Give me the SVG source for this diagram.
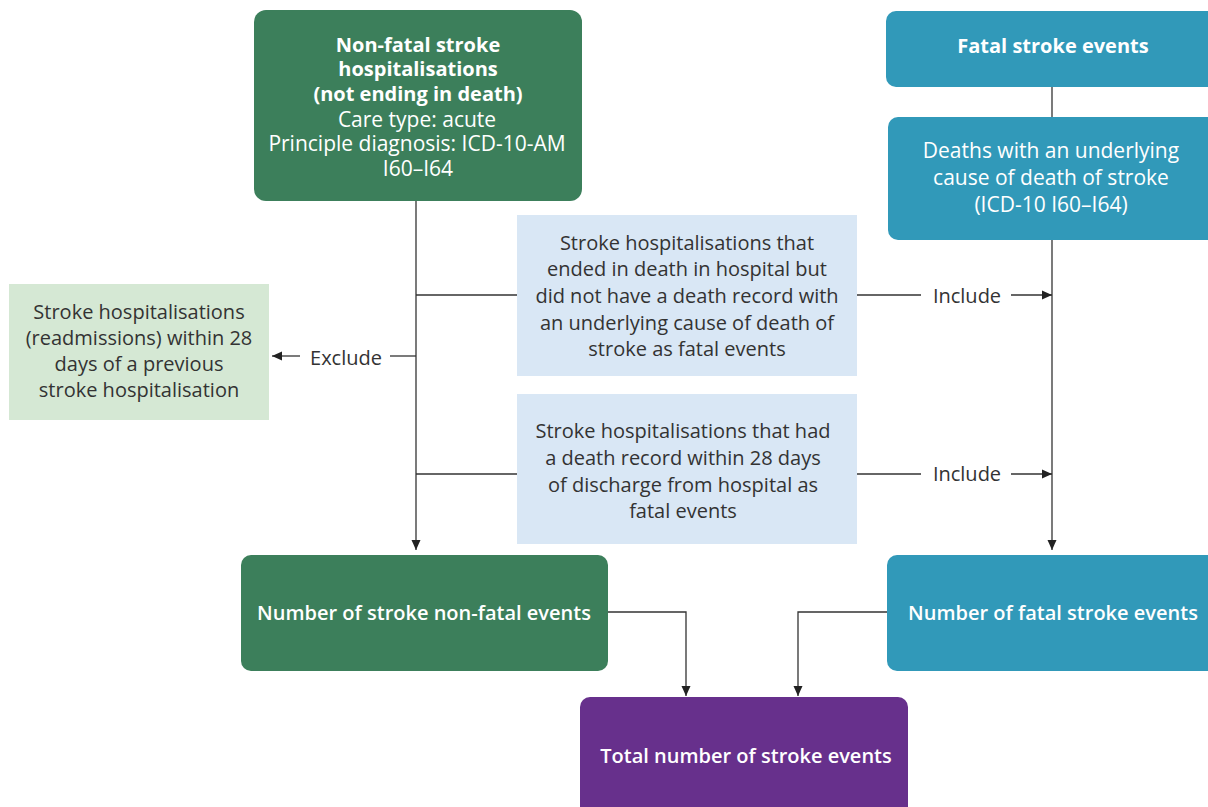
<svg xmlns="http://www.w3.org/2000/svg" width="1208" height="807" viewBox="0 0 1208 807">
<style>
.t{font-family:"Open Sans","Liberation Sans",sans-serif;font-size:20px;text-anchor:middle}
.w{fill:#ffffff}
.m{font-size:21px}
.d{fill:#333333}
.b{font-weight:700}
.s{font-weight:600}
.ln{fill:none;stroke:#333333;stroke-width:1.3}
.green{fill:#3c7f5b}
.teal{fill:#3199b9}
.purple{fill:#67308c}
</style>
<defs>
<marker id="ah" viewBox="0 0 10 10" refX="10" refY="5" markerWidth="10" markerHeight="10" markerUnits="userSpaceOnUse" orient="auto">
<path d="M0,0.5 L10,5 L0,9.5 Z" fill="#222222"/>
</marker>
</defs>
<rect width="1208" height="807" fill="#ffffff"/>
<g id="connectors">
<line class="ln" x1="416" y1="201" x2="416" y2="550" marker-end="url(#ah)"/>
<line class="ln" x1="416" y1="295" x2="517" y2="295"/>
<line class="ln" x1="416" y1="474" x2="517" y2="474"/>
<line class="ln" x1="416" y1="356" x2="390" y2="356"/>
<line class="ln" x1="300" y1="356" x2="272" y2="356" marker-end="url(#ah)"/>
<line class="ln" x1="1052" y1="87" x2="1052" y2="117"/>
<line class="ln" x1="1052" y1="240" x2="1052" y2="550" marker-end="url(#ah)"/>
<line class="ln" x1="857" y1="295" x2="921" y2="295"/>
<line class="ln" x1="1011" y1="295" x2="1052" y2="295" marker-end="url(#ah)"/>
<line class="ln" x1="857" y1="474" x2="921" y2="474"/>
<line class="ln" x1="1011" y1="474" x2="1052" y2="474" marker-end="url(#ah)"/>
<polyline class="ln" points="608,612 686,612 686,696" marker-end="url(#ah)"/>
<polyline class="ln" points="887,612 798,612 798,696" marker-end="url(#ah)"/>
<text class="t d" x="346" y="365">Exclude</text>
<text class="t d" x="967" y="303">Include</text>
<text class="t d" x="967" y="481">Include</text>
</g>
<g id="nonfatal-hosp">
<rect class="green" x="254" y="10" width="328" height="191" rx="12"/>
<text class="t w b" x="418" y="52">Non-fatal stroke</text>
<text class="t w b" x="418" y="76">hospitalisations</text>
<text class="t w b" x="418" y="101">(not ending in death)</text>
<text class="t w m" x="417" y="127">Care type: acute</text>
<text class="t w m" x="417" y="151">Principle diagnosis: ICD-10-AM</text>
<text class="t w m" x="418" y="176">I60–I64</text>
</g>
<g id="fatal-events">
<rect class="teal" x="886" y="11" width="334" height="76" rx="10"/>
<text class="t w b" x="1053" y="53">Fatal stroke events</text>
</g>
<g id="deaths">
<rect class="teal" x="888" y="117" width="332" height="123" rx="10"/>
<text class="t w m" x="1051" y="158">Deaths with an underlying</text>
<text class="t w m" x="1051" y="185">cause of death of stroke</text>
<text class="t w m" x="1051" y="212">(ICD-10 I60–I64)</text>
</g>
<g id="readmissions">
<rect x="9" y="284" width="260" height="136" fill="#d5e8d4"/>
<text class="t d" x="139" y="319">Stroke hospitalisations</text>
<text class="t d" x="139" y="345">(readmissions) within 28</text>
<text class="t d" x="139" y="371">days of a previous</text>
<text class="t d" x="139" y="397">stroke hospitalisation</text>
</g>
<g id="ended-in-death">
<rect x="517" y="215" width="340" height="161" fill="#d9e7f5"/>
<text class="t d" x="687" y="250">Stroke hospitalisations that</text>
<text class="t d" x="687" y="276">ended in death in hospital but</text>
<text class="t d" x="687" y="303">did not have a death record with</text>
<text class="t d" x="687" y="330">an underlying cause of death of</text>
<text class="t d" x="687" y="356">stroke as fatal events</text>
</g>
<g id="death-record-28">
<rect x="517" y="394" width="340" height="150" fill="#d9e7f5"/>
<text class="t d" x="683" y="438">Stroke hospitalisations that had</text>
<text class="t d" x="683" y="465">a death record within 28 days</text>
<text class="t d" x="683" y="492">of discharge from hospital as</text>
<text class="t d" x="683" y="518">fatal events</text>
</g>
<g id="nonfatal-number">
<rect class="green" x="241" y="555" width="367" height="116" rx="10"/>
<text class="t w s" x="424" y="620">Number of stroke non-fatal events</text>
</g>
<g id="fatal-number">
<rect class="teal" x="887" y="555" width="333" height="116" rx="10"/>
<text class="t w s" x="1053" y="620">Number of fatal stroke events</text>
</g>
<g id="total">
<rect class="purple" x="580" y="697" width="328" height="122" rx="10"/>
<text class="t w s" x="746" y="763">Total number of stroke events</text>
</g>
</svg>
